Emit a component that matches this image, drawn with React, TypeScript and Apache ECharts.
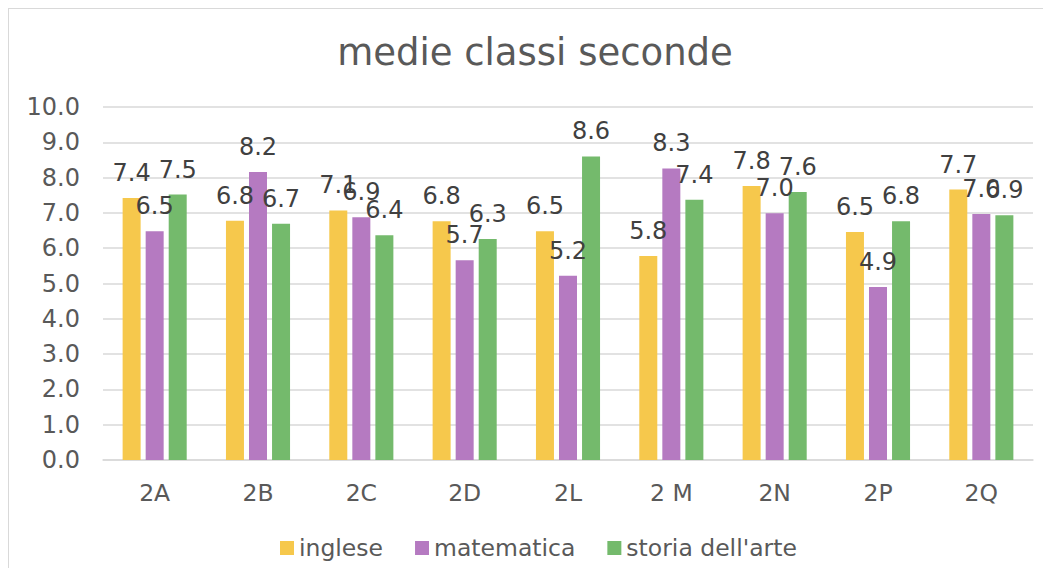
import React, { useEffect, useRef } from "react";
import * as echarts from "echarts";

const categories = ["2A", "2B", "2C", "2D", "2L", "2 M", "2N", "2P", "2Q"];
const inglese = [7.42, 6.78, 7.07, 6.76, 6.48, 5.78, 7.76, 6.46, 7.66];
const matematica = [6.48, 8.16, 6.88, 5.66, 5.22, 8.26, 6.99, 4.9, 6.97];
const storiaArte = [7.52, 6.69, 6.37, 6.26, 8.6, 7.37, 7.59, 6.76, 6.93];
const seriesNames = ["inglese", "matematica", "storia dell'arte"];
const colors = ["#F6C84C", "#B57AC1", "#74BA6C"];
const title = "medie classi seconde";

const FONT = "DejaVu Sans, Verdana, sans-serif";

export default function App() {
  const ref = useRef<HTMLDivElement>(null);
  useEffect(() => {
    if (!ref.current) return;
    const chart = echarts.init(ref.current, null, { renderer: "svg" });
    const mk = (name: string, data: number[], color: string) => ({
      name,
      type: "bar",
      data,
      barWidth: 18,
      barGap: "28%",
      itemStyle: { color },
      label: {
        show: true,
        position: "top",
        distance: 13,
        color: "#404040",
        fontSize: 24,
        fontFamily: FONT,
        formatter: (p: any) => Number(p.value).toFixed(1),
      },
    });
    chart.setOption({
      animation: false,
      title: {
        text: title,
        left: 521,
        textAlign: "center",
        top: 20,
        textStyle: {
          color: "#595959",
          fontSize: 37,
          fontWeight: "normal",
          fontFamily: FONT,
        },
      },
      legend: {
        data: seriesNames,
        left: 266,
        top: 522,
        icon: "rect",
        itemWidth: 14,
        itemHeight: 14,
        itemGap: 32,
        textStyle: { color: "#595959", fontSize: 23.5, fontFamily: FONT },
      },
      grid: { left: 94, right: 10, top: 98, bottom: 108 },
      xAxis: {
        type: "category",
        data: categories,
        axisLine: { show: true, lineStyle: { color: "#D9D9D9", width: 1.5 } },
        axisTick: { show: false },
        axisLabel: {
          color: "#595959",
          fontSize: 23.5,
          fontFamily: FONT,
          margin: 21,
        },
      },
      yAxis: {
        type: "value",
        min: 0,
        max: 10,
        interval: 1,
        axisLine: { show: false },
        axisTick: { show: false },
        splitLine: { lineStyle: { color: "#D9D9D9", width: 1.5 } },
        axisLabel: {
          color: "#595959",
          fontSize: 24,
          fontFamily: FONT,
          margin: 23,
          formatter: (v: number) => v.toFixed(1),
        },
      },
      series: [
        mk(seriesNames[0], inglese, colors[0]),
        mk(seriesNames[1], matematica, colors[1]),
        mk(seriesNames[2], storiaArte, colors[2]),
      ],
    });
    return () => chart.dispose();
  }, []);
  return (
    <div
      style={{
        width: 1035,
        height: 560,
        borderTop: "1px solid #D9D9D9",
        borderLeft: "1px solid #D9D9D9",
        boxSizing: "border-box",
      }}
    >
      <div ref={ref} style={{ width: 1034, height: 559 }} />
    </div>
  );
}
